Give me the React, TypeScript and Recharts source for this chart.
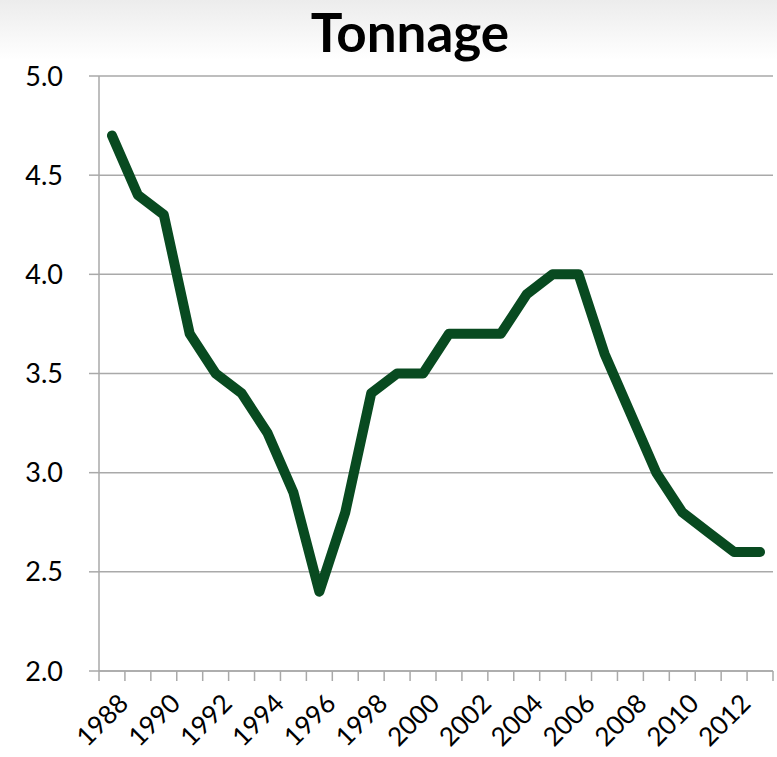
import React from 'react'
import { LineChart, Line, CartesianGrid, XAxis, YAxis } from 'recharts'

const years = [
	1988, 1989, 1990, 1991, 1992, 1993, 1994, 1995, 1996, 1997, 1998, 1999, 2000,
	2001, 2002, 2003, 2004, 2005, 2006, 2007, 2008, 2009, 2010, 2011, 2012, 2013,
]
const tonnage = [
	4.7, 4.4, 4.3, 3.7, 3.5, 3.4, 3.2, 2.9, 2.4, 2.8, 3.4, 3.5, 3.5,
	3.7, 3.7, 3.7, 3.9, 4.0, 4.0, 3.6, 3.3, 3.0, 2.8, 2.7, 2.6, 2.6,
]
const yTicks = [2.0, 2.5, 3.0, 3.5, 4.0, 4.5, 5.0]
const labelYears = [1988, 1990, 1992, 1994, 1996, 1998, 2000, 2002, 2004, 2006, 2008, 2010, 2012]
// tick marks sit between categories, like the original
const boundaries = [...years.map(y => y - 0.5), years[years.length - 1] + 0.5]

const data = years.map((year, i) => ({ year, tonnage: tonnage[i] }))

const font = 'Lato, "Open Sans", sans-serif'
const grey = '#a9a9a9'
const domain: [number, number] = [boundaries[0], boundaries[boundaries.length - 1]]

export default function App() {
	return (
		<div
			style={{
				position: 'absolute',
				left: 0,
				top: 0,
				width: 777,
				height: 757,
				background: 'linear-gradient(to bottom, #ececec 0px, #ffffff 60px)',
				fontFamily: font,
			}}
		>
			<div
				style={{
					position: 'absolute',
					top: 0,
					left: 0,
					width: 820,
					textAlign: 'center',
					fontSize: 53,
					fontWeight: 700,
					color: '#000',
				}}
			>
				Tonnage
			</div>
			<LineChart
				width={777}
				height={757}
				data={data}
				margin={{ top: 76, right: 4, bottom: 0, left: 0 }}
			>
				<CartesianGrid vertical={false} stroke={grey} strokeWidth={1.5} />
				<XAxis
					xAxisId={0}
					dataKey="year"
					type="number"
					domain={domain}
					ticks={boundaries}
					allowDataOverflow
					tickFormatter={() => ''}
					tickSize={10}
					height={10}
					stroke={grey}
					strokeWidth={1.5}
				/>
				<XAxis
					xAxisId={1}
					dataKey="year"
					type="number"
					domain={domain}
					ticks={labelYears}
					allowDataOverflow
					axisLine={false}
					tickLine={false}
					height={76}
					angle={-45}
					textAnchor="end"
					tickMargin={5}
					interval={0}
					tick={{ fontSize: 26, fill: '#000', fontFamily: font, dx: 5 }}
				/>
				<YAxis
					domain={[2, 5]}
					ticks={yTicks}
					width={99}
					tickSize={10}
					tickMargin={26}
					tickFormatter={(v: number) => v.toFixed(1)}
					stroke={grey}
					strokeWidth={1.5}
					tick={{ fontSize: 27, fill: '#000', fontFamily: font }}
				/>
				<Line
					xAxisId={0}
					type="linear"
					dataKey="tonnage"
					stroke="#084a20"
					strokeWidth={10}
					strokeLinecap="round"
					strokeLinejoin="round"
					dot={false}
					isAnimationActive={false}
				/>
			</LineChart>
		</div>
	)
}
